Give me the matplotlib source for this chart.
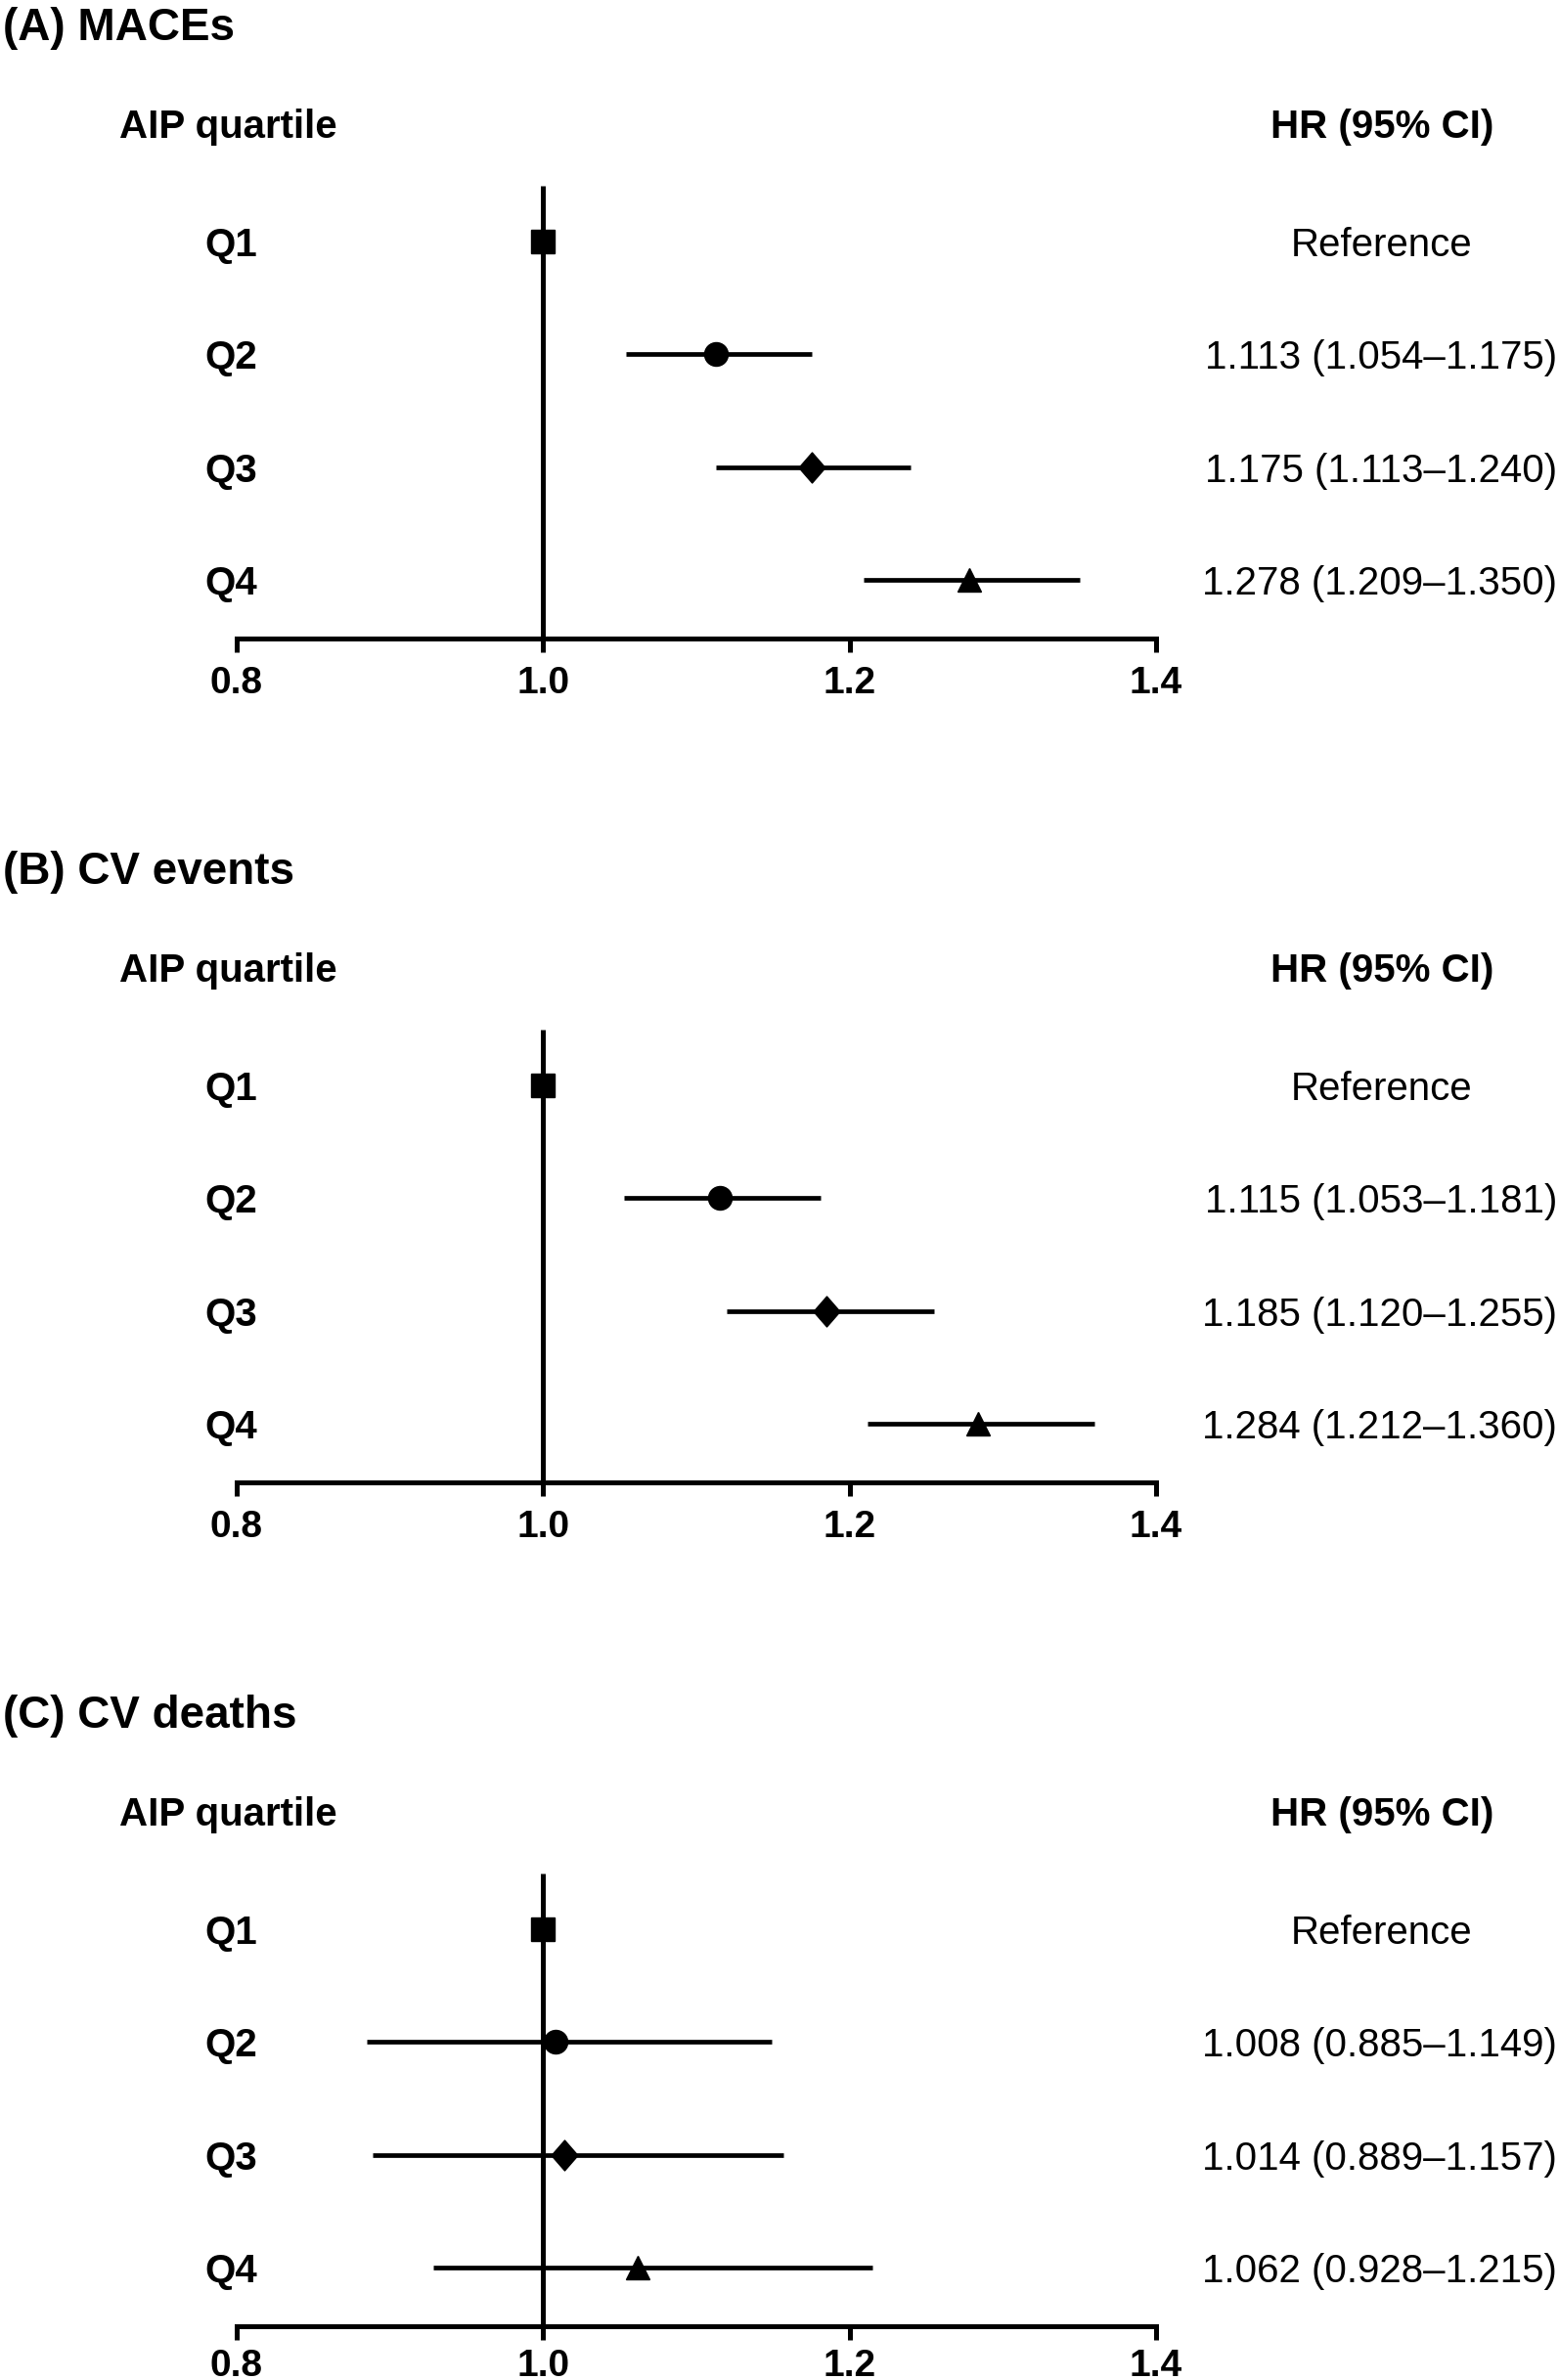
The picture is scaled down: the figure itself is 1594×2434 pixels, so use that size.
import numpy as np
import matplotlib
matplotlib.use("Agg")
import matplotlib.pyplot as plt
from matplotlib import transforms
from matplotlib.path import Path

plt.rcParams['font.family'] = ['Liberation Sans', 'DejaVu Sans']

# ---------------- data ----------------
panel_titles = ["(A) MACEs", "(B) CV events", "(C) CV deaths"]
categories = ["Q1", "Q2", "Q3", "Q4"]
tick_values = [0.8, 1.0, 1.2, 1.4]
tick_labels = ["0.8", "1.0", "1.2", "1.4"]
row_header = "AIP quartile"
hr_header = "HR (95% CI)"
reference_label = "Reference"

hr_A = [1.000, 1.113, 1.175, 1.278]
lo_A = [np.nan, 1.054, 1.113, 1.209]
hi_A = [np.nan, 1.175, 1.240, 1.350]

hr_B = [1.000, 1.115, 1.185, 1.284]
lo_B = [np.nan, 1.053, 1.120, 1.212]
hi_B = [np.nan, 1.181, 1.255, 1.360]

hr_C = [1.000, 1.008, 1.014, 1.062]
lo_C = [np.nan, 0.885, 0.889, 0.928]
hi_C = [np.nan, 1.149, 1.157, 1.215]

panels = [(hr_A, lo_A, hi_A), (hr_B, lo_B, hi_B), (hr_C, lo_C, hi_C)]

# ---------------- layout (pixels) ----------------
W, H = 1594, 2434
PANEL_DY = 863
X0, X1 = 242, 1182
LINE_TOP, AXIS_Y = 190, 653
ROW1, ROW_STEP = 247, 115.3


def prow(yp):
    return 1 + (yp - ROW1) / ROW_STEP


diamond = Path([(0, 1), (0.87, 0), (0, -1), (-0.87, 0), (0, 1)], closed=True)
markers = ['s', 'o', diamond, '^']
msizes = [17.3, 17.3, 22.3, 17.3]

fig = plt.figure(figsize=(W / 100, H / 100), dpi=100)
fig.patch.set_facecolor('white')

for p, (hr, lo, hi) in enumerate(panels):
    off = p * PANEL_DY
    top = LINE_TOP + off
    bot = AXIS_Y + off
    ax = fig.add_axes([X0 / W, 1 - bot / H, (X1 - X0) / W, (bot - top) / H])
    ax.set_facecolor('none')
    ax.set_xlim(0.8, 1.4)
    ax.set_ylim(prow(AXIS_Y), prow(LINE_TOP))

    ax.axvline(1.0, color='black', lw=3.6, solid_capstyle='butt', zorder=2)

    rows = np.arange(1, len(categories) + 1)
    for i, r in enumerate(rows):
        if not np.isnan(lo[i]):
            ax.plot([lo[i], hi[i]], [r, r], color='black', lw=3.4,
                    solid_capstyle='butt', zorder=2)
        ax.plot([hr[i]], [r], marker=markers[i], ms=msizes[i], color='black',
                mec='black', mfc='black', ls='none', zorder=3)

    for s in ['top', 'right', 'left']:
        ax.spines[s].set_visible(False)
    ax.spines['bottom'].set_linewidth(3.6)
    ax.set_yticks([])
    ax.set_xticks(tick_values)
    ax.set_xticklabels(tick_labels, fontsize=28, fontweight='bold')
    pad = 10 if p < 2 else 6.5
    ax.tick_params(axis='x', length=10, width=3.6, pad=pad, direction='out')

    tr = transforms.blended_transform_factory(fig.transFigure, ax.transData)
    ax.text(3 / W, prow(24), panel_titles[p], transform=tr, ha='left',
            va='center_baseline', fontsize=33, fontweight='bold', clip_on=False)
    ax.text(122 / W, prow(126), row_header, transform=tr, ha='left',
            va='center_baseline', fontsize=29, fontweight='bold', clip_on=False)
    ax.text(1527 / W, prow(126), hr_header, transform=tr, ha='right',
            va='center_baseline', fontsize=29, fontweight='bold', clip_on=False)

    for i, r in enumerate(rows):
        ax.text(209 / W, r, categories[i], transform=tr, ha='left',
                va='center_baseline', fontsize=29, fontweight='bold', clip_on=False)
        if np.isnan(lo[i]):
            ax.text(1413 / W, r, reference_label, transform=tr, ha='center',
                    va='center_baseline', fontsize=29, clip_on=False)
        else:
            label = f"{hr[i]:.3f} ({lo[i]:.3f}\u2013{hi[i]:.3f})"
            ax.text(1592 / W, r, label, transform=tr, ha='right',
                    va='center_baseline', fontsize=29, clip_on=False)

fig.savefig('out.png', dpi=100, facecolor='white')
